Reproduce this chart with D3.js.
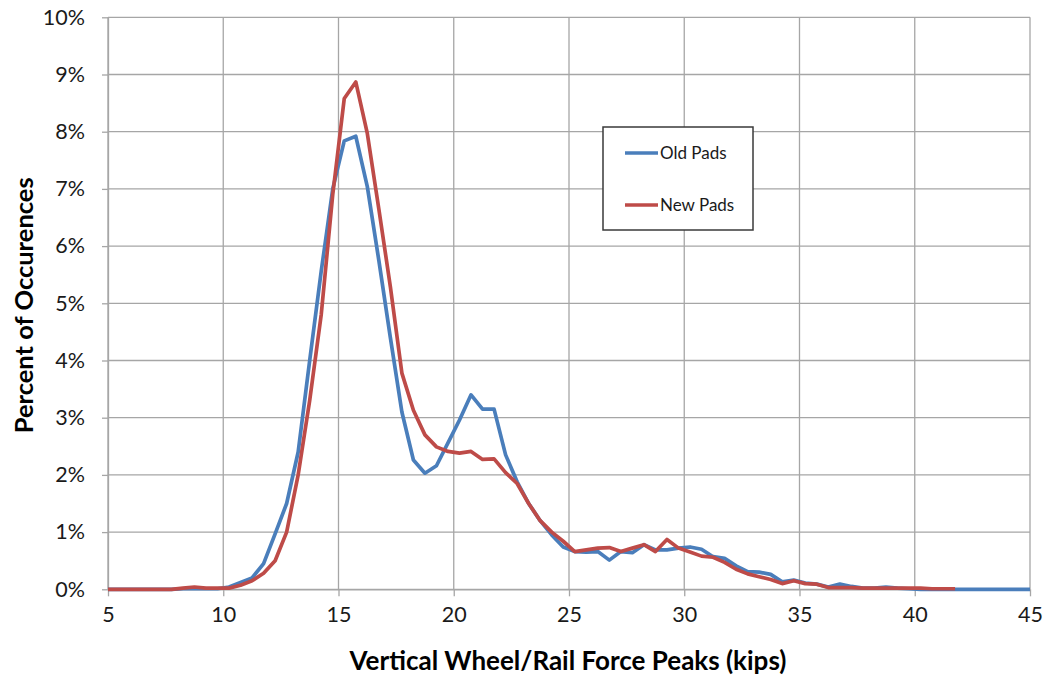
<!DOCTYPE html>
<html>
<head>
<meta charset="utf-8">
<script src="https://cdn.jsdelivr.net/npm/d3@7"></script>
<style>
  html, body { margin: 0; padding: 0; background: #ffffff; }
  svg { display: block; font-family: Lato, "Open Sans", sans-serif; }
</style>
</head>
<body>
<svg id="chart" width="1047" height="677"></svg>
<script>
// Bin centres of the force-peak histogram (kips)
const forceKips = [
  5.25, 5.75, 6.25, 6.75, 7.25, 7.75, 8.25, 8.75, 9.25, 9.75,
  10.25, 10.75, 11.25, 11.75, 12.25, 12.75, 13.25, 13.75, 14.25, 14.75,
  15.25, 15.75, 16.25, 16.75, 17.25, 17.75, 18.25, 18.75, 19.25, 19.75,
  20.25, 20.75, 21.25, 21.75, 22.25, 22.75, 23.25, 23.75, 24.25, 24.75,
  25.25, 25.75, 26.25, 26.75, 27.25, 27.75, 28.25, 28.75, 29.25, 29.75,
  30.25, 30.75, 31.25, 31.75, 32.25, 32.75, 33.25, 33.75, 34.25, 34.75,
  35.25, 35.75, 36.25, 36.75, 37.25, 37.75, 38.25, 38.75, 39.25, 39.75,
  40.25, 40.75, 41.25, 41.75, 42.25, 42.75, 43.25, 43.75, 44.25, 44.75
];

// Percent of occurrences, old pads
const oldPads = [
  0, 0, 0, 0, 0, 0, 0.01, 0.01, 0.01, 0.01,
  0.04, 0.12, 0.20, 0.45, 0.97, 1.50, 2.40, 4.00, 5.56, 7.00,
  7.84, 7.92, 7.04, 5.75, 4.40, 3.10, 2.26, 2.03, 2.16, 2.56,
  2.96, 3.40, 3.15, 3.15, 2.35, 1.88, 1.50, 1.20, 0.95, 0.74,
  0.66, 0.65, 0.66, 0.51, 0.66, 0.64, 0.78, 0.69, 0.69, 0.72,
  0.74, 0.70, 0.57, 0.54, 0.41, 0.31, 0.30, 0.26, 0.13, 0.16,
  0.11, 0.09, 0.04, 0.09, 0.05, 0.02, 0.02, 0.04, 0.02, 0.01,
  0, 0, 0, 0, 0, 0, 0, 0, 0, 0
];

// Percent of occurrences, new pads (series stops at 41.75 kips)
const newPads = [
  0, 0, 0, 0, 0, 0, 0.02, 0.04, 0.02, 0.02,
  0.02, 0.07, 0.15, 0.28, 0.50, 1.00, 2.00, 3.30, 4.80, 6.90,
  8.58, 8.87, 7.97, 6.65, 5.29, 3.78, 3.13, 2.70, 2.49, 2.41,
  2.38, 2.41, 2.27, 2.28, 2.04, 1.85, 1.50, 1.20, 1.00, 0.84,
  0.66, 0.69, 0.72, 0.73, 0.66, 0.72, 0.78, 0.66, 0.87, 0.72,
  0.65, 0.58, 0.56, 0.47, 0.35, 0.27, 0.22, 0.17, 0.10, 0.15,
  0.10, 0.09, 0.03, 0.03, 0.03, 0.02, 0.02, 0.02, 0.02, 0.02,
  0.02, 0.01, 0.01, 0.01
];

const xTicks = [5, 10, 15, 20, 25, 30, 35, 40, 45];
const yTicks = [0, 1, 2, 3, 4, 5, 6, 7, 8, 9, 10];
const seriesNames = ["Old Pads", "New Pads"];
const seriesColors = ["#4a7ebb", "#be4b48"];

const margin = { left: 108, right: 17, top: 17.3, bottom: 87.7 };
const width = 1047, height = 677;

const svg = d3.select("#chart");

const x = d3.scaleLinear().domain([5, 45]).range([margin.left, width - margin.right]);
const y = d3.scaleLinear().domain([0, 10]).range([height - margin.bottom, margin.top]);

const gridColor = "#a6a6a6";

// Gridlines
const grid = svg.append("g");
grid.selectAll("line.h").data(yTicks).join("line")
  .attr("x1", x(5)).attr("x2", x(45))
  .attr("y1", d => y(d)).attr("y2", d => y(d))
  .attr("stroke", gridColor).attr("stroke-width", 1.3);
grid.selectAll("line.v").data(xTicks).join("line")
  .attr("x1", d => x(d)).attr("x2", d => x(d))
  .attr("y1", y(0)).attr("y2", y(10))
  .attr("stroke", gridColor).attr("stroke-width", 1.3);

// Axes
const xAxis = svg.append("g")
  .attr("transform", `translate(0,${y(0)})`)
  .call(d3.axisBottom(x).tickValues(xTicks).tickSizeInner(7).tickSizeOuter(0).tickPadding(10));
const yAxis = svg.append("g")
  .attr("transform", `translate(${x(5)},0)`)
  .call(d3.axisLeft(y).tickValues(yTicks).tickSizeInner(6).tickSizeOuter(0).tickPadding(17)
    .tickFormat(d => d + "%"));

[xAxis, yAxis].forEach(g => {
  g.select(".domain").attr("stroke", gridColor).attr("stroke-width", 1.3);
  g.selectAll(".tick line").attr("stroke", gridColor).attr("stroke-width", 1.3);
  g.selectAll(".tick text")
    .attr("fill", "#1a1a1a")
    .style("font-family", "Lato, 'Open Sans', sans-serif")
    .style("font-size", "21.5px");
});

// Series lines
const line = d3.line().x(d => x(d[0])).y(d => y(d[1]));
const oldData = forceKips.map((k, i) => [k, oldPads[i]]);
const newData = newPads.map((v, i) => [forceKips[i], v]);
oldData.unshift([5, 0]); oldData.push([45, 0]);
newData.unshift([5, 0]);

svg.append("path").datum(oldData)
  .attr("d", line).attr("fill", "none")
  .attr("stroke", seriesColors[0]).attr("stroke-width", 3.7)
  .attr("stroke-linejoin", "round");
svg.append("path").datum(newData)
  .attr("d", line).attr("fill", "none")
  .attr("stroke", seriesColors[1]).attr("stroke-width", 3.7)
  .attr("stroke-linejoin", "round");

// Legend
const legend = svg.append("g").attr("transform", "translate(603,127)");
legend.append("rect")
  .attr("width", 150).attr("height", 103)
  .attr("fill", "#ffffff").attr("stroke", "#3a3a3a").attr("stroke-width", 1.5);
seriesNames.forEach((name, i) => {
  const ly = 26 + i * 52;
  legend.append("line")
    .attr("x1", 22).attr("x2", 55).attr("y1", ly).attr("y2", ly)
    .attr("stroke", seriesColors[i]).attr("stroke-width", 3.7);
  legend.append("text")
    .attr("x", 57).attr("y", ly).attr("dy", "0.35em")
    .attr("fill", "#1a1a1a").style("font-size", "17px")
    .text(name);
});

// Axis titles
svg.append("text")
  .attr("x", 568).attr("y", 670)
  .attr("text-anchor", "middle")
  .attr("fill", "#000").style("font-weight", "bold").style("font-size", "26px")
  .text("Vertical Wheel/Rail Force Peaks (kips)");
svg.append("text")
  .attr("transform", `translate(33,${(y(0) + y(10)) / 2 + 2}) rotate(-90)`)
  .attr("text-anchor", "middle")
  .attr("fill", "#000").style("font-weight", "bold").style("font-size", "25.5px")
  .text("Percent of Occurences");
</script>
</body>
</html>
